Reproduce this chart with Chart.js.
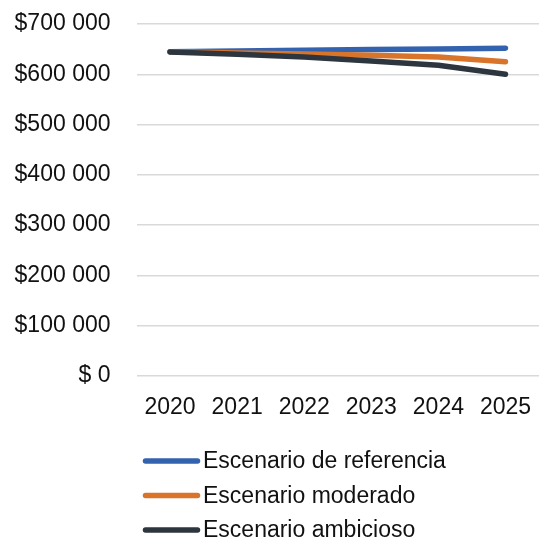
<!DOCTYPE html>
<html>
<head>
<meta charset="utf-8">
<script src="https://cdn.jsdelivr.net/npm/chart.js@4/dist/chart.umd.min.js"></script>
<style>
  html, body { margin: 0; padding: 0; background: #fff; }
  #wrap { width: 540px; height: 538px; position: relative; }
</style>
</head>
<body>
<div id="wrap"><canvas id="c" width="540" height="538"></canvas></div>
<script>
// Años del periodo proyectado
const years = ['2020', '2021', '2022', '2023', '2024', '2025'];

// Valores por escenario (USD)
const referencia = [645000, 646500, 648000, 649500, 650500, 652000];
const moderado   = [645000, 642500, 640500, 638000, 634500, 625000];
const ambicioso  = [644500, 640000, 634500, 626500, 618000, 600000];

const seriesNames = ['Escenario de referencia', 'Escenario moderado', 'Escenario ambicioso'];
const seriesColors = ['#3363AF', '#D9752B', '#2D363E'];

// Etiquetas del eje de valores
const yTickValues = [0, 100000, 200000, 300000, 400000, 500000, 600000, 700000];
const yTickLabels = ['$ 0', '$100 000', '$200 000', '$300 000', '$400 000', '$500 000', '$600 000', '$700 000'];

const FONT = '"Liberation Sans", Arial, sans-serif';
const FONT_SIZE = 23;

// Leyenda vertical dibujada bajo el eje de categorías
const stackedLegend = {
  id: 'stackedLegend',
  afterDraw(chart) {
    const ctx = chart.ctx;
    const top = chart.chartArea.bottom + 85;
    const rowGap = 34.5;
    const x0 = 143, x1 = 200;
    ctx.save();
    ctx.font = FONT_SIZE + 'px ' + FONT;
    ctx.textBaseline = 'middle';
    ctx.textAlign = 'left';
    chart.data.datasets.forEach((ds, i) => {
      const y = top + i * rowGap;
      ctx.strokeStyle = ds.borderColor;
      ctx.lineWidth = 5.5;
      ctx.lineCap = 'round';
      ctx.beginPath();
      ctx.moveTo(x0 + 2.5, y);
      ctx.lineTo(x1 - 2.5, y);
      ctx.stroke();
      ctx.fillStyle = '#111';
      ctx.fillText(ds.label, x1 + 3, y + 1);
    });
    ctx.restore();
  }
};

const series = [referencia, moderado, ambicioso];

new Chart(document.getElementById('c'), {
  type: 'line',
  data: {
    labels: years,
    datasets: series.map((values, i) => ({
      label: seriesNames[i],
      data: values,
      borderColor: seriesColors[i],
      backgroundColor: seriesColors[i],
      borderWidth: 5.5,
      borderCapStyle: 'round',
      borderJoinStyle: 'round',
      pointRadius: 0,
      tension: 0,
      order: 2 - i
    }))
  },
  options: {
    responsive: false,
    animation: false,
    layout: { padding: { top: 24, right: 1, bottom: 102, left: 0 } },
    plugins: {
      legend: { display: false },
      tooltip: { enabled: false }
    },
    scales: {
      x: {
        offset: true,
        grid: { display: false },
        border: { display: false },
        ticks: {
          color: '#111',
          font: { family: FONT, size: FONT_SIZE },
          padding: 10,
          maxRotation: 0,
          autoSkip: false
        },
        afterFit(scale) {
          scale.height = 60;
          scale.paddingLeft = 0;
          scale.paddingRight = 0;
        }
      },
      y: {
        min: 0,
        max: 700000,
        afterBuildTicks(scale) {
          scale.ticks = yTickValues.map(v => ({ value: v }));
        },
        grid: { color: '#d9d9d9', lineWidth: 1.5, drawTicks: false },
        border: { display: false },
        ticks: {
          color: '#111',
          font: { family: FONT, size: FONT_SIZE },
          padding: 26,
          callback(value, index) { return yTickLabels[index]; }
        },
        afterFit(scale) {
          scale.width = 136.5;
          scale.paddingTop = 0;
          scale.paddingBottom = 0;
        }
      }
    }
  },
  plugins: [stackedLegend]
});
</script>
</body>
</html>
